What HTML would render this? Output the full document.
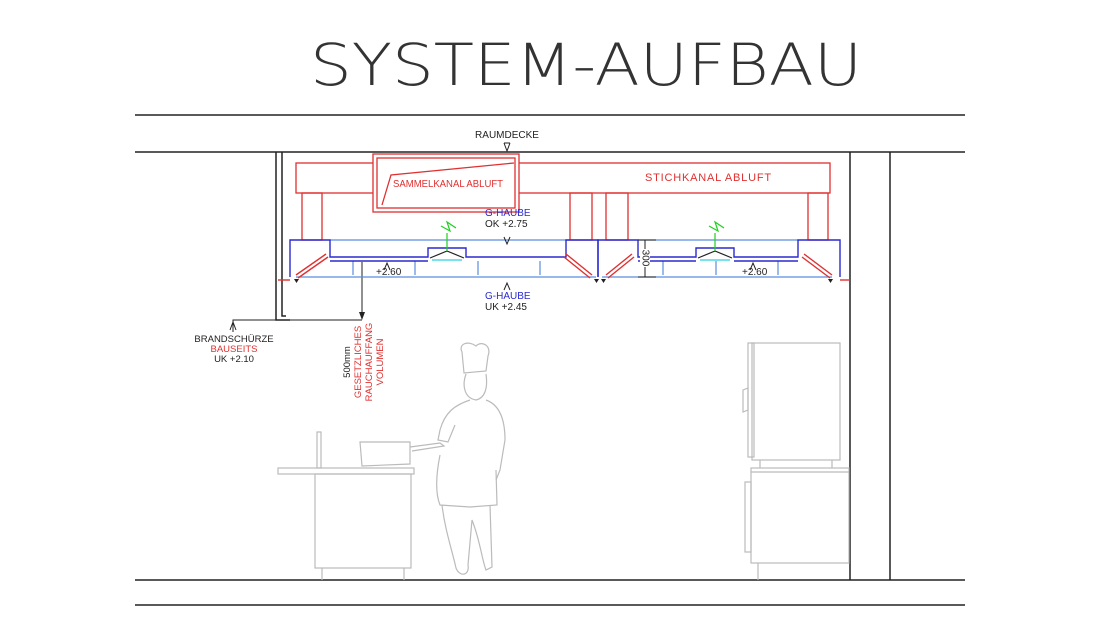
<!DOCTYPE html>
<html><head><meta charset="utf-8"><style>
html,body{margin:0;padding:0;background:#fff;width:1100px;height:619px;overflow:hidden}
svg{display:block}
text{font-family:"Liberation Sans",sans-serif}
</style></head><body>
<svg width="1100" height="619" viewBox="0 0 1100 619" xmlns="http://www.w3.org/2000/svg">
<rect width="1100" height="619" fill="#fff"/>
<!-- title -->
<text x="310" y="85" font-size="58" fill="#333" style="font-family:'DejaVu Sans ExtraLight','DejaVu Sans',sans-serif;font-weight:200" textLength="552" lengthAdjust="spacingAndGlyphs">SYSTEM-AUFBAU</text>

<!-- structural lines -->
<g stroke="#222" stroke-width="1.5" fill="none">
<line x1="135" y1="115" x2="965" y2="115"/>
<line x1="135" y1="152" x2="965" y2="152"/>
<line x1="135" y1="580" x2="965" y2="580"/>
<line x1="135" y1="605" x2="965" y2="605"/>
<line x1="850" y1="152" x2="850" y2="580"/>
<line x1="890" y1="152" x2="890" y2="580"/>
<polyline points="276,152 276,320 290,320"/>
<polyline points="282,152 282,316 286,316"/>
<line x1="290" y1="320" x2="362" y2="320" stroke-width="1"/>
<line x1="362" y1="262" x2="362" y2="318" stroke-width="1"/>
<polyline points="233,332 233,320 290,320" stroke-width="1"/>
</g>
<path d="M359,312 L362,320 L365,312Z" fill="#222"/>
<path d="M230,330 L233,322 L236,330" fill="none" stroke="#222"/>

<!-- red ducts -->
<g stroke="#e03030" stroke-width="1.3" fill="none">
<rect x="296" y="163" width="534" height="30"/>
<rect x="373" y="154" width="146" height="58" fill="#fff"/>
<rect x="377" y="158" width="138" height="50"/>
<polyline points="382,205 391,175 514,163"/>
<rect x="302" y="193" width="20" height="47"/>
<rect x="570" y="193" width="22" height="47"/>
<rect x="606" y="193" width="22" height="47"/>
<rect x="808" y="193" width="20" height="47"/>
</g>
<text x="393" y="187" font-size="10.5" fill="#e03030" textLength="110" lengthAdjust="spacingAndGlyphs">SAMMELKANAL ABLUFT</text>
<text x="645" y="181" font-size="11" fill="#e03030" letter-spacing="0.8">STICHKANAL ABLUFT</text>

<!-- hoods -->
<g fill="none" stroke-width="1.2">
<g stroke="#5a8de0">
<line x1="330" y1="240" x2="570" y2="240"/>
<line x1="296" y1="277" x2="596" y2="277"/>
<line x1="638" y1="240" x2="798" y2="240"/>
<line x1="602" y1="277" x2="832" y2="277"/>
<line x1="353" y1="261" x2="353" y2="275"/><line x1="415" y1="261" x2="415" y2="275"/>
<line x1="478" y1="261" x2="478" y2="275"/><line x1="540" y1="261" x2="540" y2="275"/>
<line x1="663" y1="261" x2="663" y2="275"/><line x1="716" y1="261" x2="716" y2="275"/>
<line x1="778" y1="261" x2="778" y2="275"/>
</g>
<g stroke="#2a2ad0" stroke-width="1.4">
<polyline points="290,277 290,240 330,240 330,257 428,257 428,248 466,248 466,257 566,257 566,240 598,240 598,277"/>
<polyline points="330,261 428,261 M466,261 566,261"/>
<polyline points="598,277 598,240 638,240 638,257 696,257 696,248 734,248 734,257 798,257 798,240 840,240 840,277"/>
<line x1="638" y1="261" x2="696" y2="261"/><line x1="734" y1="261" x2="798" y2="261"/>
</g>
<g stroke="#2ad0e0"><line x1="432" y1="260" x2="462" y2="260"/><line x1="700" y1="260" x2="730" y2="260"/></g>
<g stroke="#222"><polyline points="430,258 447,251 464,258"/><polyline points="698,258 715,251 732,258"/></g>
<g stroke="#20d020"><path d="M447,251 L447,233 M441,226 L450,231 L447,222 L456,228"/><path d="M715,251 L715,233 M709,226 L718,231 L715,222 L724,228"/></g>
<g stroke="#e03030" stroke-width="1.4">
<line x1="296" y1="275" x2="326" y2="254"/><line x1="298" y1="278" x2="328" y2="257"/>
<line x1="592" y1="275" x2="566" y2="254"/><line x1="590" y1="278" x2="564" y2="257"/>
<line x1="606" y1="275" x2="632" y2="254"/><line x1="608" y1="278" x2="634" y2="257"/>
<line x1="832" y1="275" x2="804" y2="254"/><line x1="830" y1="278" x2="802" y2="257"/>
<line x1="278" y1="280" x2="290" y2="280"/><line x1="840" y1="280" x2="850" y2="280"/>
</g>
</g>
<g fill="#222"><path d="M294,279h5l-2.5,4z M594,279h5l-2.5,4z M601,279h5l-2.5,4z M828,279h5l-2.5,4z"/></g>
<!-- dims -->
<g stroke="#222" fill="none" stroke-width="1">
<line x1="638" y1="240" x2="656" y2="240"/><line x1="638" y1="277" x2="656" y2="277"/>
<line x1="645" y1="240" x2="645" y2="277"/>
<path d="M504,143 L507,151 L510,143 M504,143 L510,143"/>
<path d="M504,237 L507,244 L510,237"/>
<path d="M504,290 L507,283 L510,290"/>
<path d="M384,270 L387,263 L390,270"/>
<path d="M750,270 L753,263 L756,270"/>
</g>
<rect x="640" y="249" width="10" height="18" fill="#fff"/>
<text x="645" y="258" font-size="10" fill="#222" transform="rotate(90 645 258)" text-anchor="middle" dominant-baseline="middle">300</text>
<g font-size="10" fill="#222">
<text x="507" y="138" text-anchor="middle">RAUMDECKE</text>
<text x="485" y="216" fill="#2a2ad0">G-HAUBE</text>
<text x="485" y="227">OK +2.75</text>
<text x="376" y="275">+2.60</text>
<text x="742" y="275">+2.60</text>
<text x="485" y="299" fill="#2a2ad0">G-HAUBE</text>
<text x="485" y="310">UK +2.45</text>
<text x="234" y="342" font-size="9.5" text-anchor="middle">BRANDSCHÜRZE</text>
<text x="234" y="352" font-size="9.5" text-anchor="middle" fill="#e03030">BAUSEITS</text>
<text x="234" y="362" font-size="9.5" text-anchor="middle">UK  +2.10</text>
</g>
<g font-size="9.5" transform="rotate(-90)">
<text x="-362" y="350" text-anchor="middle" fill="#222">500mm</text>
<text x="-362" y="361" text-anchor="middle" fill="#e03030">GESETZLICHES</text>
<text x="-362" y="372" text-anchor="middle" fill="#e03030">RAUCHAUFFANG</text>
<text x="-362" y="383" text-anchor="middle" fill="#e03030">VOLUMEN</text>
</g>

<!-- kitchen figures (gray) -->
<g stroke="#bbb" stroke-width="1.2" fill="none">
<rect x="278" y="468" width="136" height="6"/>
<rect x="315" y="474" width="96" height="94"/>
<line x1="322" y1="568" x2="322" y2="580"/><line x1="404" y1="568" x2="404" y2="580"/>
<rect x="317" y="432" width="4" height="36"/>
<path d="M360,442 L410,442 L410,464 L362,466 Z"/>
<path d="M410,447 L440,443 L444,446 L412,451"/>
<!-- chef -->
<path d="M464,373 L462,352 C458,344 468,340 476,346 C482,340 492,346 488,356 L486,371 Z"/>
<path d="M466,374 C462,385 464,398 476,400 C485,398 488,388 486,374"/>
<path d="M470,400 C455,405 445,412 440,430 L438,440 L448,442 L455,425"/>
<path d="M486,400 C500,405 505,420 505,440 L500,470 L496,480"/>
<path d="M440,455 C435,480 436,495 440,505 L470,507 L497,505 L496,470"/>
<path d="M442,505 C445,530 452,550 456,568 C460,578 470,575 468,565 L472,520 C480,540 482,560 486,570 L492,567 L490,505"/>
<!-- oven -->
<rect x="752" y="343" width="88" height="117"/>
<rect x="748" y="343" width="6" height="114"/>
<path d="M743,390 L748,388 L748,410 L743,412 Z"/>
<rect x="751" y="468" width="98" height="95"/>
<line x1="751" y1="472" x2="849" y2="472"/>
<line x1="760" y1="460" x2="760" y2="468"/><line x1="832" y1="460" x2="832" y2="468"/>
<rect x="745" y="482" width="6" height="70"/>
<line x1="758" y1="563" x2="758" y2="580"/>
</g>
</svg>
</body></html>
